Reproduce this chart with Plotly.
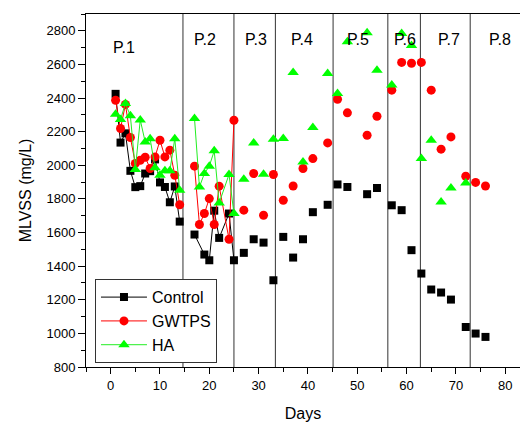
import plotly.graph_objects as go

# ---------------- data ----------------
# Control (black squares)
control_days = [1, 2, 3, 4, 5, 6, 7, 8, 9, 10, 11, 12, 13, 14,
                17, 19, 20, 21, 22, 24, 25,
                27, 29, 31, 33, 35, 37, 39, 41, 44, 46, 48, 52, 54, 57, 59, 61,
                63, 65, 67, 69, 72, 74, 76]
control_vals = [2425, 2135, 2190, 1967, 1870, 1876, 1951, 1965, 2035, 1898, 1871, 1780, 1874, 1665,
                1588, 1469, 1435, 1730, 1568, 1713, 1435,
                1479, 1560, 1540, 1316, 1574, 1451, 1560, 1721, 1765, 1886, 1871, 1828, 1865, 1762, 1733, 1495,
                1356, 1261, 1243, 1201, 1038, 999, 979]

# GWTPS (red circles)
gwtps_days = [1, 2, 3, 4, 5, 6, 7, 8, 9, 10, 11, 12, 13, 14,
              17, 18, 19, 20, 21, 22, 24, 25,
              27, 29, 31, 33, 35, 37, 39, 41, 44, 46, 48, 52, 54, 57, 59, 61,
              63, 65, 67, 69, 72, 74, 76]
gwtps_vals = [2387, 2219, 2362, 2165, 2011, 2030, 2048, 1981, 2050, 2149, 2050, 2090, 1941, 1765,
              1995, 1648, 1713, 1802, 1648, 1876, 1560, 2268,
              1733, 1951, 1703, 1945, 1792, 1877, 1981, 2040, 2133, 2393, 2312, 2179, 2292, 2447, 2612, 2607,
              2612, 2447, 2096, 2169, 1935, 1898, 1877]

# HA (green triangles)
ha_days = [1, 2, 3, 4, 5, 6, 7, 8, 9, 10, 11, 12, 13, 14,
           17, 18, 19, 20, 21, 22, 24, 25,
           27, 29, 31, 33, 35, 37, 39, 41, 44, 46, 48, 52, 54, 57, 59, 61,
           63, 65, 67, 69, 72]
ha_vals = [2304, 2273, 2368, 2294, 1975, 2270, 2139, 2158, 1985, 1941, 1967, 1967, 2158, 1852,
           2279, 1871, 1951, 1995, 2086, 1776, 1945, 1713,
           1917, 2133, 1947, 2155, 2160, 2552, 2020, 2225, 2546, 2427, 2735, 2788, 2566, 2477, 2784, 2712,
           2040, 2149, 1782, 1865, 1895]

# period boundaries (days) and labels
period_bounds = [14.66, 25.0, 33.4, 45.1, 56.2, 62.8, 72.9]
period_labels = ["P.1", "P.2", "P.3", "P.4", "P.5", "P.6", "P.7", "P.8"]
period_label_x = [2.7, 19.1, 29.4, 38.7, 50.1, 59.6, 68.6, 79.0]
period_label_y = [2700, 2750, 2750, 2750, 2750, 2750, 2750, 2750]

# ---------------- build ----------------
FONT = "Liberation Sans, Arial, sans-serif"
LAST_CONNECTED_DAY = 25
BREAK_AFTER = 14


def split(days, vals):
    """Connected part (days <= 25, gap between period 1 and 2) and scatter part."""
    lx, ly, sx, sy = [], [], [], []
    prev = None
    for d, v in zip(days, vals):
        if d <= LAST_CONNECTED_DAY:
            if prev is not None and prev <= BREAK_AFTER < d:
                lx.append(None)
                ly.append(None)
            lx.append(d)
            ly.append(v)
            prev = d
        else:
            sx.append(d)
            sy.append(v)
    return lx, ly, sx, sy


series = [
    ("Control", control_days, control_vals, "#000000", "#000000", "square", 8),
    ("GWTPS", gwtps_days, gwtps_vals, "#ff0000", "#ff0000", "circle", 9),
    ("HA", ha_days, ha_vals, "#00ff00", "#22ee22", "triangle-up", 10),
]

fig = go.Figure()
for name, d, v, mcol, lcol, sym, size in series:
    lx, ly, sx, sy = split(d, v)
    fig.add_trace(go.Scatter(
        x=lx, y=ly, mode="lines+markers", name=name,
        line=dict(color=lcol, width=1),
        marker=dict(symbol=sym, size=size, color=mcol, line=dict(width=0)),
        connectgaps=False,
    ))
    fig.add_trace(go.Scatter(
        x=sx, y=sy, mode="markers", name=name, showlegend=False,
        marker=dict(symbol=sym, size=size, color=mcol, line=dict(width=0)),
    ))

for b in period_bounds:
    fig.add_shape(type="line", xref="x", yref="paper", x0=b, x1=b, y0=0, y1=1,
                  line=dict(color="#333333", width=1), layer="below")

for lab, lxp, lyp in zip(period_labels, period_label_x, period_label_y):
    fig.add_annotation(x=lxp, y=lyp, text=lab, showarrow=False,
                       font=dict(family=FONT, size=16, color="#000000"))

fig.update_layout(
    width=520, height=423,
    margin=dict(l=86, r=0, t=14, b=56, autoexpand=False),
    paper_bgcolor="white", plot_bgcolor="white",
    font=dict(family=FONT, size=13, color="#000000"),
    showlegend=True,
    legend=dict(
        x=0.0207, y=0.2487, xanchor="left", yanchor="top",
        bgcolor="white", bordercolor="#333333", borderwidth=1,
        font=dict(family=FONT, size=16, color="#000000"),
        itemwidth=46, tracegroupgap=0,
    ),
)

fig.update_xaxes(
    range=[-5, 83], tickmode="linear", tick0=0, dtick=10,
    ticks="outside", ticklen=6, tickwidth=1, tickcolor="#000000",
    minor=dict(tickmode="linear", tick0=5, dtick=10, ticks="outside", ticklen=4, tickcolor="#000000"),
    showline=True, linecolor="#000000", linewidth=1, mirror=True,
    showgrid=False, zeroline=False, automargin=False,
    title=dict(text="Days", font=dict(family=FONT, size=16), standoff=16),
)
fig.update_yaxes(
    range=[800, 2900], tickmode="linear", tick0=800, dtick=200,
    ticks="outside", ticklen=7, tickwidth=1, tickcolor="#000000",
    minor=dict(tickmode="linear", tick0=900, dtick=200, ticks="outside", ticklen=4, tickcolor="#000000"),
    showline=True, linecolor="#000000", linewidth=1,
    showgrid=False, zeroline=False, automargin=False,
    title=dict(text="MLVSS (mg/L)", font=dict(family=FONT, size=16), standoff=10),
)

fig.write_html("out.html", config={"displayModeBar": False},
               post_script="document.body.style.margin='0';")
